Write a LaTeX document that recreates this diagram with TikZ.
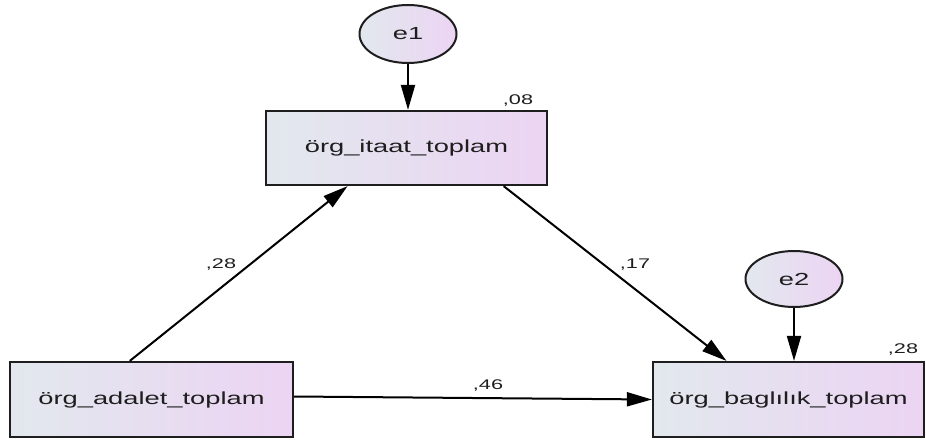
\documentclass[tikz,border=0pt]{standalone}
\usepackage{fontspec}
\setmainfont{Liberation Sans}
\newfontfamily\boxfont[FakeStretch=1.56]{Liberation Sans}
\newfontfamily\labfont[FakeStretch=1.55]{Liberation Sans}
\usetikzlibrary{arrows.meta,calc,shapes.geometric}
\definecolor{boxL}{HTML}{E2E8EE}
\definecolor{boxR}{HTML}{ECD4F3}
\definecolor{ink}{HTML}{1E1E1E}
\begin{document}
\begin{tikzpicture}[x=1pt,y=-1pt,
  var/.style={draw=ink, line width=2.2pt, rectangle, minimum width=283pt, minimum height=75pt,
    left color=boxL, right color=boxR, text=ink, inner sep=0pt,
    font=\boxfont\fontsize{17.5}{20}\selectfont},
  err/.style={ellipse, draw=ink, line width=2pt, minimum width=97pt, minimum height=58pt,
    left color=boxL, right color=boxR, text=ink, inner sep=0pt,
    font=\boxfont\fontsize{17.5}{20}\selectfont},
  arr/.style={draw=black, line width=2pt, -{Triangle[length=25pt,width=14pt]}},
  lab/.style={text=ink, inner sep=0pt, font=\labfont\fontsize{14}{16}\selectfont}]
\useasboundingbox (0,0) rectangle (926,439);

\node[var, minimum width=281pt, minimum height=74pt] (itaat) at (406.5,148) {örg\_itaat\_toplam};
\node[var] (adalet) at (151.5,399.5) {örg\_adalet\_toplam};
\node[var, minimum width=271pt] (bag) at (788.5,399.5) {örg\_baglılık\_toplam};
\node[err] (e1) at (408,34) {e1};
\node[err, minimum height=56pt] (e2) at (794,279) {e2};

\draw[arr] (e1) -- (e1 |- itaat.north);
\draw[arr] (e2) -- (e2 |- bag.north);
\draw[arr] ($(adalet.north west)!0.424!(adalet.north east)$) -- ($(itaat.south west)!0.292!(itaat.south east)$);
\draw[arr] ($(itaat.south west)!0.843!(itaat.south east)$) -- ($(bag.north west)!0.273!(bag.north east)$);
\draw[arr] ([yshift=3pt]adalet.east) -- (bag.west);

\node[lab] (l08) at (518,101) {,08};
\node[lab] (l28a) at (221,265) {,28};
\node[lab] (l46) at (488,386) {,46};
\node[lab] (l28b) at (903,350) {,28};
\node[lab] (l17) at (635,265) {,17};
\end{tikzpicture}
\end{document}
